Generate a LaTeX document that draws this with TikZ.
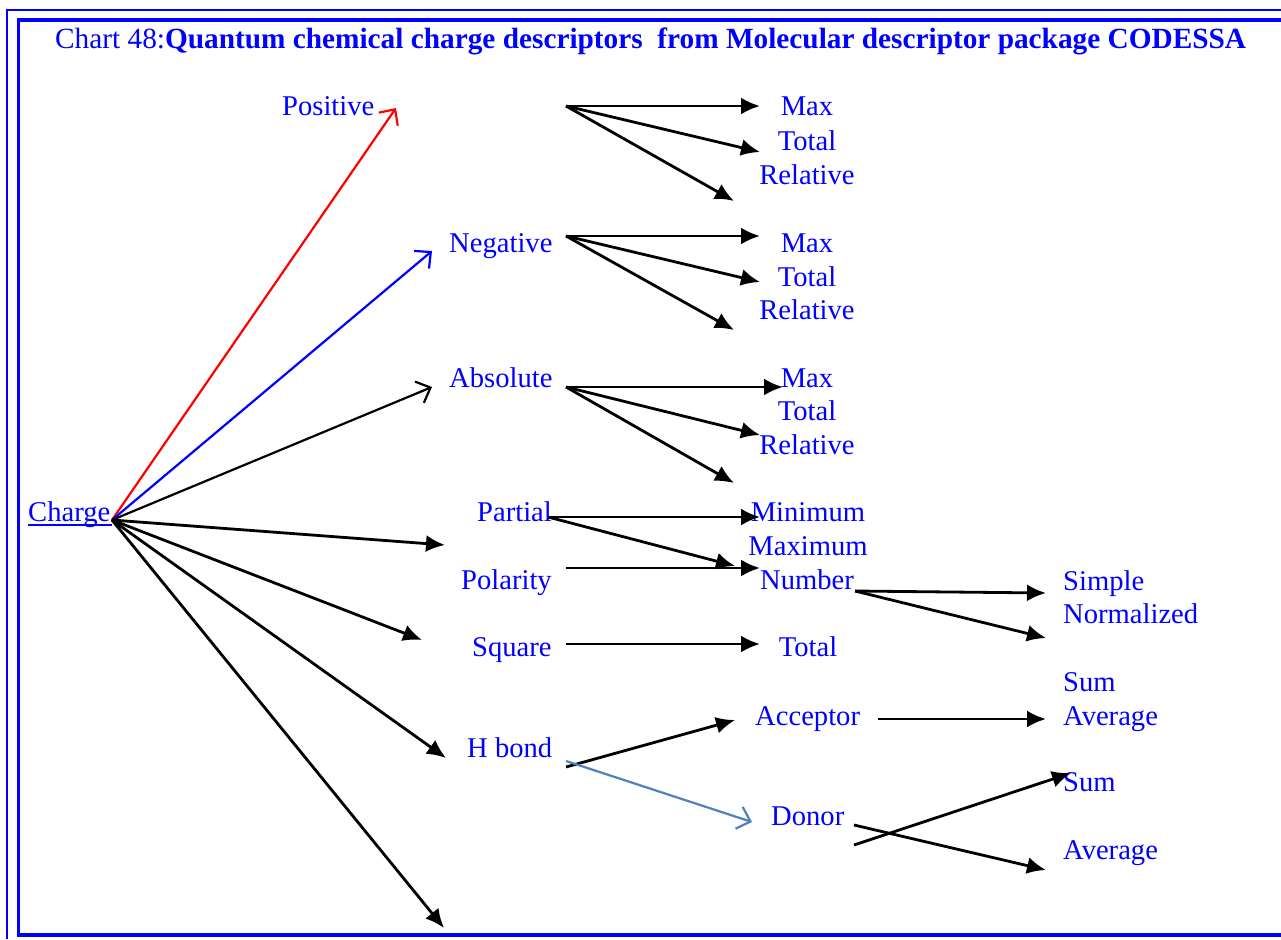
\documentclass[tikz,border=0pt]{standalone}
\usepackage{fontspec}
\setmainfont{Liberation Serif}
\usetikzlibrary{arrows.meta}
\definecolor{txtblue}{RGB}{0,0,255}
\definecolor{steel}{RGB}{79,129,189}
\begin{document}
\begin{tikzpicture}[x=1pt,y=-1pt,
  lbl/.style={inner sep=0pt,text=txtblue,font=\fontsize{28.6}{34}\selectfont},
  lw/.style={lbl,anchor=base west},
  lc/.style={lbl,anchor=base},
  solid arrow/.style={draw=black,line width=2.8pt,-{Latex[length=19pt,width=17pt]}},
  open arrow/.style={line width=2.2pt,-{Straight Barb[length=12pt,width=23pt,line width=2.2pt]}}]
\useasboundingbox (0,0) rectangle (1281,939);
\fill[white] (0,0) rectangle (1281,939);
% double frame
\draw[txtblue,line width=1.6pt] (1281,10) -- (7,10) -- (7,939);
\draw[txtblue,line width=3.6pt] (1281,20) -- (18.5,20) -- (18.5,935) -- (1281,935);
% title
\node[lw,text=txtblue] (title) at (55,49) {\fontsize{29.3}{34}\selectfont Chart 48:\textbf{Quantum chemical charge descriptors\ \ from Molecular descriptor package CODESSA}};
% root
\node[lw] (charge) at (28,521) {Charge};
\draw[txtblue,line width=1.3pt] (28,525) -- (112,525);
\coordinate (root) at (112,520);
% first level
\node[lw] (pos) at (282,116) {Positive};
\node[lw] (neg) at (449,252) {Negative};
\node[lw] (abs) at (449,387) {Absolute};
\node[lw] (part) at (477,521) {Partial};
\node[lw] (polar) at (461,589) {Polarity};
\node[lw] (square) at (472,656) {Square};
\node[lw] (hbond) at (467,757) {H bond};
% arrow tips near the first level
\coordinate (tpos) at (396,108);
\coordinate (tneg) at (432,251);
\coordinate (tabs) at (432,387);
\coordinate (tpart) at (445,545);
\coordinate (tpolar) at (422,640);
\coordinate (tsquare) at (446,758);
\coordinate (tlast) at (444,928);
\draw[open arrow,red] (root) -- (tpos);
\draw[open arrow,blue] (root) -- (tneg);
\draw[open arrow,black] (root) -- (tabs);
\draw[solid arrow] (root) -- (tpart);
\draw[solid arrow] (root) -- (tpolar);
\draw[solid arrow] (root) -- (tsquare);
\draw[solid arrow] (root) -- (tlast);
% second level: Max / Total / Relative groups
\node[lc] (max1) at (807,116) {Max};
\node[lc] (tot1) at (807,150) {Total};
\node[lc] (rel1) at (807,184) {Relative};
\node[lc] (max2) at (807,252) {Max};
\node[lc] (tot2) at (807,286) {Total};
\node[lc] (rel2) at (807,319) {Relative};
\node[lc] (max3) at (807,387) {Max};
\node[lc] (tot3) at (807,420) {Total};
\node[lc] (rel3) at (807,454) {Relative};
\node[lc] (min) at (808,521) {Minimum};
\node[lc] (maxi) at (808,555) {Maximum};
\node[lc] (num) at (807,589) {Number};
\node[lc] (tot4) at (808,656) {Total};
\node[lw] (acc) at (755,725) {Acceptor};
\node[lw] (don) at (771,825) {Donor};
% third level
\node[lw] (simple) at (1063,590) {Simple};
\node[lw] (norm) at (1063,623) {Normalized};
\node[lw] (sum1) at (1063,691) {Sum};
\node[lw] (avg1) at (1063,725) {Average};
\node[lw] (sum2) at (1063,791) {Sum};
\node[lw] (avg2) at (1063,859) {Average};
% fan-outs of the first three groups
\coordinate (spos) at (566,106);
\draw[solid arrow] (spos) -- (760,106);
\draw[solid arrow] (spos) -- (760,152);
\draw[solid arrow] (spos) -- (734,201);
\coordinate (sneg) at (566,236);
\draw[solid arrow] (sneg) -- (760,236);
\draw[solid arrow] (sneg) -- (760,282);
\draw[solid arrow] (sneg) -- (734,330);
\coordinate (sabs) at (566,387);
\draw[solid arrow] (sabs) -- (783,387);
\draw[solid arrow] (sabs) -- (760,435);
\draw[solid arrow] (sabs) -- (734,483);
% partial, polarity, square
\coordinate (spart) at (548,517);
\draw[solid arrow] (spart) -- (760,517);
\draw[solid arrow] (spart) -- (735,566);
\coordinate (spolar) at (566,568);
\draw[solid arrow] (spolar) -- (760,568);
\coordinate (ssquare) at (566,644);
\draw[solid arrow] (ssquare) -- (760,644);
% number
\coordinate (snum) at (855,591);
\draw[solid arrow] (snum) -- (1046,593);
\draw[solid arrow] (snum) -- (1046,638);
% H bond
\draw[solid arrow] (566,767) -- (735,720);
\draw[open arrow,steel] (566,761) -- (752,822);
% acceptor and donor
\draw[solid arrow] (878,719) -- (1046,719);
\draw[solid arrow] (854,845) -- (1071,773);
\draw[solid arrow] (854,825) -- (1046,870);
\end{tikzpicture}
\end{document}
